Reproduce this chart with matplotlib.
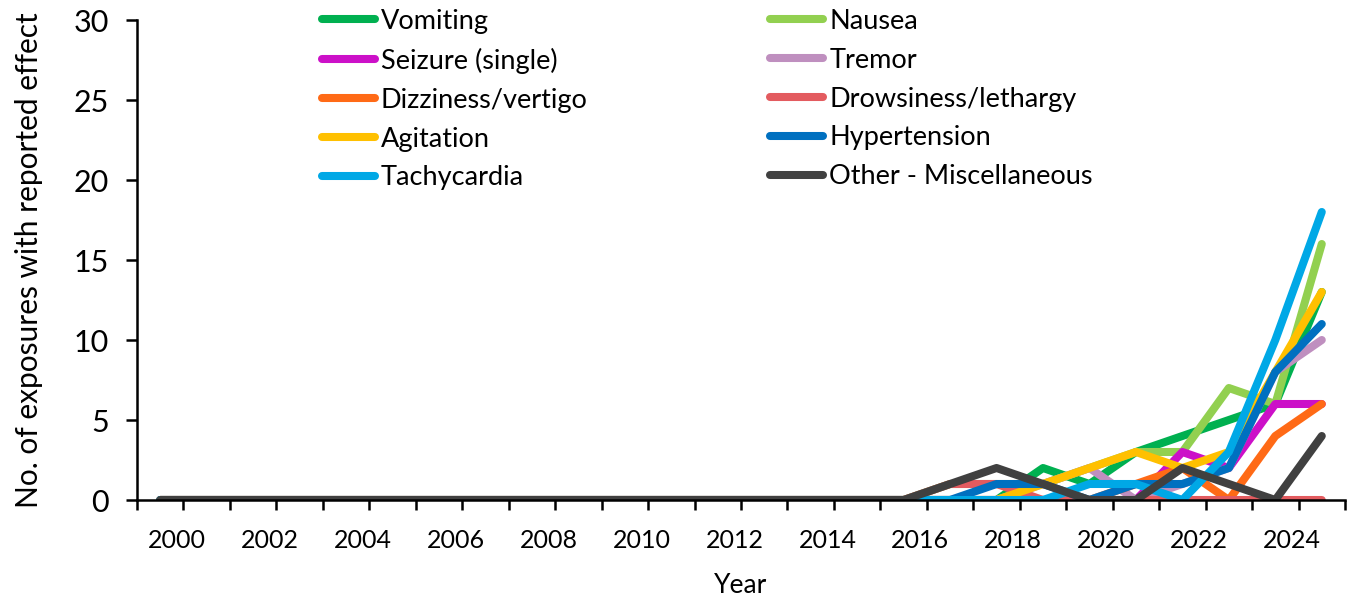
import numpy as np
import matplotlib
matplotlib.use("Agg")
import matplotlib.pyplot as plt

plt.rcParams['font.family'] = ['Lato', 'DejaVu Sans']

years = list(range(2000, 2026))
z16 = [0] * 16

vomiting     = z16 + [0, 0, 0, 2, 1, 3, 4, 5, 6, 13]
nausea       = z16 + [0, 1, 1, 1, 2, 3, 3, 7, 6, 16]
seizure      = z16 + [0, 0, 0, 0, 0, 0, 3, 2, 6, 6]
tremor       = z16 + [0, 0, 0, 1, 2, 0, 1, 2, 8, 10]
dizziness    = z16 + [0, 0, 0, 0, 0, 1, 2, 0, 4, 6]
drowsiness   = z16 + [0, 1, 1, 0, 0, 0, 0, 0, 0, 0]
agitation    = z16 + [0, 0, 0, 1, 2, 3, 2, 3, 8, 13]
hypertension = z16 + [0, 0, 1, 1, 0, 1, 1, 2, 8, 11]
tachycardia  = z16 + [0, 0, 0, 0, 1, 1, 0, 3, 10, 18]
other        = z16 + [0, 1, 2, 1, 0, 0, 2, 1, 0, 4]

series_names = ["Vomiting", "Nausea", "Seizure (single)", "Tremor", "Dizziness/vertigo",
                "Drowsiness/lethargy", "Agitation", "Hypertension", "Tachycardia",
                "Other - Miscellaneous"]
series_values = [vomiting, nausea, seizure, tremor, dizziness, drowsiness,
                 agitation, hypertension, tachycardia, other]
colors = ["#00B050", "#92D050", "#CC10C8", "#BF8FBF", "#FF6A16",
          "#E35B5F", "#FFC000", "#0070C0", "#00A8E6", "#404040"]

tick_years = years[0:25:2]

fig = plt.figure(figsize=(13.51, 5.97), dpi=100)
ax = fig.add_axes([137/1351, 97/597, 1208/1351, 480/597])

x = np.arange(len(years))
handles = []
for name, vals, c in zip(series_names, series_values, colors):
    h, = ax.plot(x, vals, color=c, lw=5.8, label=name,
                 solid_capstyle='round', solid_joinstyle='round')
    handles.append(h)

ax.set_xlim(-0.5, len(years) - 0.5)
ax.set_ylim(0, 30)
ax.set_yticks(np.arange(0, 31, 5))
ax.spines['top'].set_visible(False)
ax.spines['right'].set_visible(False)
for s in ['left', 'bottom']:
    ax.spines[s].set_linewidth(1.8)
    ax.spines[s].set_color('black')

ax.set_xticks(np.arange(-0.5, len(years), 1))
ax.set_xticklabels([])
ax.tick_params(axis='x', which='major', length=7, width=1.8, direction='out')
idx = [years.index(y) for y in tick_years]
ax.set_xticks(np.array(idx) + 0.36, minor=True)
ax.set_xticklabels([str(y) for y in tick_years], minor=True, fontsize=18)
ax.tick_params(axis='x', which='minor', length=0, pad=21)
ax.tick_params(axis='y', length=8, width=1.8, labelsize=22, pad=12)

ax.set_xlabel("Year", fontsize=19, labelpad=15)
ax.set_ylabel("No. of exposures with reported effect", fontsize=21.5, labelpad=22)

order = [0, 2, 4, 6, 8, 1, 3, 5, 7, 9]
leg = ax.legend([handles[i] for i in order], [series_names[i] for i in order],
                ncol=2, loc='upper left', bbox_to_anchor=(322/1351, 0.985),
                bbox_transform=fig.transFigure, frameon=False, fontsize=19.5,
                handlelength=1.95, handletextpad=0.22, labelspacing=0.51,
                columnspacing=6.75, borderpad=0, borderaxespad=0)
for line in leg.get_lines():
    line.set_linewidth(5.8)
    line.set_solid_capstyle('round')

fig.savefig("out.png", dpi=100)
